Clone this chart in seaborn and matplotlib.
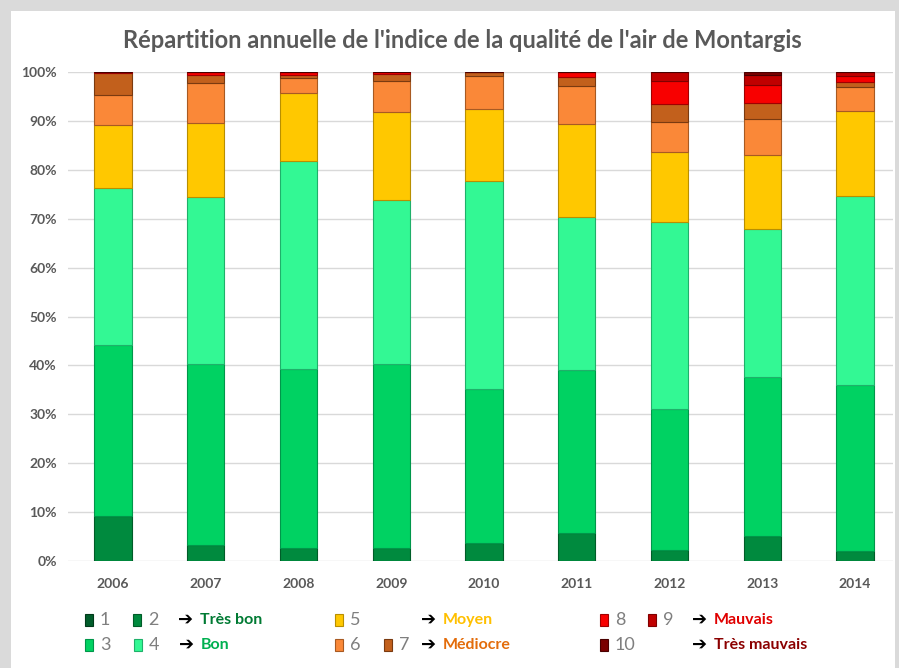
import numpy as np
import pandas as pd
import matplotlib
matplotlib.use("Agg")
import matplotlib.pyplot as plt
import matplotlib.ticker as mtick
from matplotlib.patches import Rectangle
import seaborn as sns

# ---------------------------------------------------------------------------
# Données : part (%) des jours par indice ATMO, par année
# ---------------------------------------------------------------------------
annees = ["2006", "2007", "2008", "2009", "2010", "2011", "2012", "2013", "2014"]

indice_1 = [0.0, 0.0, 0.0, 0.0, 0.0, 0.0, 0.0, 0.0, 0.0]
indice_2 = [9.2, 3.3, 2.6, 2.6, 3.7, 5.7, 2.2, 5.1, 2.1]
indice_3 = [35.0, 37.0, 36.7, 37.7, 31.5, 33.4, 28.9, 32.5, 33.9]
indice_4 = [32.0, 34.2, 42.4, 33.5, 42.6, 31.2, 38.2, 30.3, 38.6]
indice_5 = [13.0, 15.1, 14.1, 18.0, 14.6, 19.1, 14.4, 15.1, 17.5]
indice_6 = [6.1, 8.2, 3.0, 6.4, 6.8, 7.7, 6.1, 7.3, 4.9]
indice_7 = [4.4, 1.5, 0.6, 1.4, 0.8, 1.9, 3.6, 3.4, 1.0]
indice_8 = [0.3, 0.7, 0.6, 0.4, 0.0, 1.0, 4.8, 3.6, 1.1]
indice_9 = [0.0, 0.0, 0.0, 0.0, 0.0, 0.0, 1.8, 2.0, 0.9]
indice_10 = [0.0, 0.0, 0.0, 0.0, 0.0, 0.0, 0.0, 0.7, 0.0]

series = [indice_1, indice_2, indice_3, indice_4, indice_5,
          indice_6, indice_7, indice_8, indice_9, indice_10]

COULEURS = ["#005C2A", "#008A3E", "#00D262", "#33F894", "#FFC800",
            "#FA8838", "#C2601C", "#F80000", "#C00000", "#7A0000"]
BORDS = ["#003A1A", "#005C28", "#00964A", "#1FB06A", "#B88F00",
         "#A85A22", "#7A3A10", "#A00000", "#800000", "#4A0000"]

GRIS = "#595959"
plt.rcParams["font.family"] = ["Lato", "DejaVu Sans"]

# ---------------------------------------------------------------------------
# Figure
# ---------------------------------------------------------------------------
W, H = 899, 668
fig = plt.figure(figsize=(W / 100, H / 100), dpi=100)
fig.patch.set_facecolor("#DADADA")
fig.patches.append(Rectangle((11 / W, 0), (895 - 11) / W, 1 - 11 / H,
                             transform=fig.transFigure, facecolor="white",
                             edgecolor="none", zorder=-10))

ax = fig.add_axes([68 / W, 1 - 561 / H, 825 / W, (561 - 72) / H])
ax.set_facecolor("none")
ax.set_zorder(2)

df = pd.DataFrame({"annee": annees})
cumul = np.zeros(len(annees))
for i, vals in enumerate(series):
    df["val"] = vals
    sns.barplot(data=df, x="annee", y="val", bottom=cumul, color=COULEURS[i],
                width=0.4, saturation=1, edgecolor=BORDS[i],
                linewidth=0.8 if max(vals) > 0 else 0, ax=ax, zorder=3)
    cumul = cumul + np.array(vals)

ax.set_xlim(-0.485, 8.41)
ax.set_ylim(0, 100)
ax.set_yticks(range(0, 101, 10))
ax.yaxis.set_major_formatter(mtick.PercentFormatter(decimals=0))
ax.yaxis.grid(True, color="#D9D9D9", linewidth=1, zorder=0)
ax.set_axisbelow(True)
for s in ax.spines.values():
    s.set_visible(False)
ax.tick_params(axis="both", length=0, colors=GRIS, labelsize=10)
ax.tick_params(axis="y", pad=8)
ax.tick_params(axis="x", pad=12)
for lab in ax.get_xticklabels() + ax.get_yticklabels():
    lab.set_fontweight("bold")
ax.set_xlabel("")
ax.set_ylabel("")

fig.text(462 / W, 1 - 40 / H,
         "Répartition annuelle de l'indice de la qualité de l'air de Montargis",
         ha="center", va="center", fontsize=17, fontweight="bold", color=GRIS)

# ---------------------------------------------------------------------------
# Légende personnalisée
# ---------------------------------------------------------------------------
def carre(x, y, idx, num):
    fig.patches.append(Rectangle(((x) / W, 1 - (y + 6) / H), 8 / W, 12 / H,
                                 transform=fig.transFigure,
                                 facecolor=COULEURS[idx], edgecolor=BORDS[idx],
                                 linewidth=0.8, zorder=5))
    fig.text((x + 15) / W, 1 - y / H, num, ha="left", va="center",
             fontsize=13, color="#7F7F7F")

def classe(x, y, texte, couleur):
    fig.text(x / W, 1 - y / H, "➔", ha="left", va="center", fontsize=13,
             color="black", family="DejaVu Sans", fontweight="bold")
    fig.text((x + 22) / W, 1 - y / H, texte, ha="left", va="center",
             fontsize=11.5, fontweight="bold", color=couleur)

r1, r2 = 620, 645
carre(85, r1, 0, "1")
carre(133, r1, 1, "2")
classe(178, r1, "Très bon", "#007A33")
carre(85, r2, 2, "3")
carre(134, r2, 3, "4")
classe(179, r2, "Bon", "#00B050")

carre(335, r1, 4, "5")
classe(421, r1, "Moyen", "#FFC000")
carre(335, r2, 5, "6")
carre(384, r2, 6, "7")
classe(421, r2, "Médiocre", "#E36C0A")

carre(600, r1, 7, "8")
carre(648, r1, 8, "9")
classe(692, r1, "Mauvais", "#E00000")
carre(600, r2, 9, "10")
classe(692, r2, "Très mauvais", "#8B0000")

fig.savefig("out.png", dpi=100, facecolor=fig.get_facecolor())
